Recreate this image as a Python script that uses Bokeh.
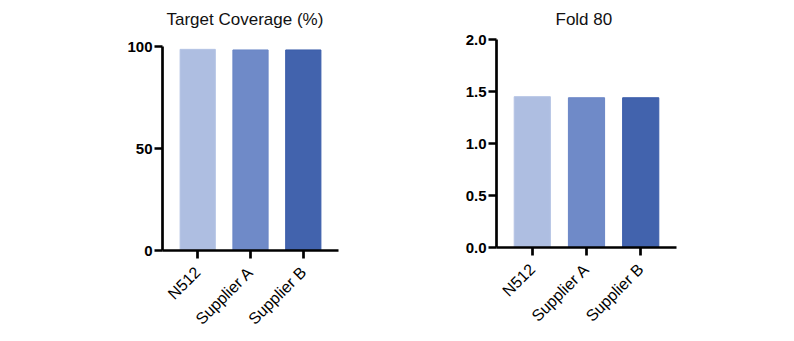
from bokeh.plotting import figure
from bokeh.models import FactorRange, Range1d, FixedTicker, Title, NumeralTickFormatter
from bokeh.layouts import row
from bokeh.embed import file_html
from bokeh.resources import INLINE
import math

categories = ["N512", "Supplier A", "Supplier B"]
coverage = [98.6, 98.3, 98.3]
fold80 = [1.45, 1.44, 1.44]
fill_colors = ["#aebee1", "#6f8ac8", "#4263ad"]
line_colors = ["#b4c3e4", "#6a86c6", "#3a5caa"]
cov_ticks = [0, 50, 100]
fold_ticks = [0.0, 0.5, 1.0, 1.5, 2.0]

FONT = "Liberation Sans"


def make_panel(title, values, ymax, ticks, fmt, bl, fw, br, bt, fh, bb, pad, toff, tstand, margin):
    p = figure(
        x_range=FactorRange(*categories, range_padding=pad, range_padding_units="absolute"),
        y_range=Range1d(0, ymax),
        frame_width=fw, frame_height=fh,
        min_border_left=bl, min_border_right=br, min_border_top=bt, min_border_bottom=bb,
        output_backend="svg", toolbar_location=None, title=None, margin=margin,
    )
    p.vbar(x=categories, top=values, width=0.667, fill_color=fill_colors,
           line_color=line_colors, line_width=1)
    p.add_layout(Title(text=title, align="left", offset=toff, vertical_align="top",
                       standoff=tstand, text_font=FONT, text_font_size="17px",
                       text_font_style="normal", text_color="#111111"), "above")
    p.outline_line_color = None
    p.grid.visible = False
    p.background_fill_color = "white"
    p.border_fill_color = "white"
    for ax in (p.xaxis, p.yaxis):
        ax.axis_line_width = 2.7
        ax.axis_line_color = "black"
        ax.major_tick_line_width = 2.7
        ax.major_tick_line_color = "black"
        ax.major_tick_out = 8
        ax.major_tick_in = 0
        ax.minor_tick_line_color = None
        ax.major_label_text_color = "black"
        ax.major_label_text_font = FONT
    p.yaxis.ticker = FixedTicker(ticks=ticks)
    p.yaxis.major_label_text_font_style = "bold"
    p.yaxis.major_label_text_font_size = "15px"
    p.yaxis.major_label_standoff = 2
    if fmt:
        p.yaxis.formatter = NumeralTickFormatter(format=fmt)
    p.xaxis.major_label_orientation = math.pi / 4
    p.xaxis.major_label_standoff = 11
    p.xaxis.major_label_text_font_style = "normal"
    p.xaxis.major_label_text_font_size = "16px"
    return p


p1 = make_panel("Target Coverage (%)", coverage, 100, cov_ticks, None,
                162, 176, 59, 52, 204, 91, 0.167, 4, 32, (-7, 0, 0, 0))
p2 = make_panel("Fold 80", fold80, 2.0, fold_ticks, "0.0",
                99, 180, 118, 52, 208, 94, 0.16, 59, 18, (-14, 0, 0, 0))

layout = row(p1, p2, spacing=0)
open("out.html", "w").write(file_html(layout, INLINE))
